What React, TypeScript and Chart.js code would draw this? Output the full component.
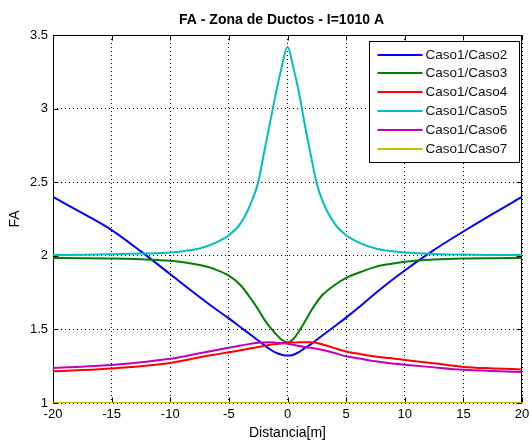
import React, { useEffect, useRef } from "react";
import { Chart, registerables } from "chart.js";

Chart.register(...registerables);

const titleText = "FA - Zona de Ductos - I=1010 A";
const xLabel = "Distancia[m]";
const yLabel = "FA";

const xTicks = [-20, -15, -10, -5, 0, 5, 10, 15, 20];
const yTicks = [1, 1.5, 2, 2.5, 3, 3.5];

const seriesNames = ["Caso1/Caso2", "Caso1/Caso3", "Caso1/Caso4", "Caso1/Caso5", "Caso1/Caso6", "Caso1/Caso7"];
const seriesColors = ["#0000ff", "#008000", "#ff0000", "#00bfbf", "#bf00bf", "#bfbf00"];

const distancia = [-20, -17.5, -15, -12.5, -10, -8.75, -7.5, -6.25, -5, -4, -3, -2.5, -2, -1.5, -1, -0.5, 0, 0.5, 1, 1.5, 2, 2.5, 3, 4, 5, 6.25, 7.5, 8.75, 10, 12.5, 15, 17.5, 20];

const caso2 = [2.40, 2.29, 2.175, 2.03, 1.875, 1.797, 1.72, 1.645, 1.575, 1.515, 1.455, 1.425, 1.395, 1.365, 1.342, 1.328, 1.322, 1.328, 1.348, 1.375, 1.40, 1.43, 1.46, 1.52, 1.58, 1.66, 1.745, 1.825, 1.90, 2.04, 2.165, 2.285, 2.40];
const caso3 = [1.985, 1.984, 1.982, 1.976, 1.966, 1.955, 1.937, 1.91, 1.865, 1.80, 1.695, 1.635, 1.57, 1.515, 1.47, 1.43, 1.412, 1.435, 1.49, 1.555, 1.625, 1.685, 1.735, 1.80, 1.85, 1.89, 1.925, 1.945, 1.96, 1.975, 1.982, 1.984, 1.985];
const caso4 = [1.215, 1.224, 1.235, 1.25, 1.272, 1.29, 1.311, 1.328, 1.345, 1.358, 1.373, 1.38, 1.388, 1.395, 1.40, 1.405, 1.409, 1.411, 1.413, 1.413, 1.412, 1.408, 1.398, 1.373, 1.35, 1.332, 1.316, 1.305, 1.292, 1.27, 1.245, 1.235, 1.228];
const caso5 = [2.005, 2.007, 2.01, 2.015, 2.022, 2.033, 2.05, 2.085, 2.14, 2.22, 2.38, 2.5, 2.7, 2.9, 3.1, 3.28, 3.42, 3.28, 3.1, 2.88, 2.68, 2.49, 2.37, 2.22, 2.14, 2.085, 2.05, 2.033, 2.023, 2.013, 2.008, 2.006, 2.005];
const caso6 = [1.238, 1.247, 1.258, 1.277, 1.30, 1.318, 1.338, 1.357, 1.375, 1.39, 1.404, 1.409, 1.411, 1.412, 1.41, 1.407, 1.402, 1.395, 1.387, 1.38, 1.375, 1.368, 1.36, 1.34, 1.317, 1.30, 1.283, 1.27, 1.26, 1.242, 1.226, 1.217, 1.21];
const caso7 = [1, 1, 1, 1, 1, 1, 1, 1, 1, 1, 1, 1, 1, 1, 1, 1, 1, 1, 1, 1, 1, 1, 1, 1, 1, 1, 1, 1, 1, 1, 1, 1, 1];

const allSeries = [caso2, caso3, caso4, caso5, caso6, caso7];

const FONT = "'Liberation Sans', Arial, Helvetica, sans-serif";

const framePlugin = {
  id: "frame",
  beforeDatasetsDraw(chart: any) {
    const { ctx, chartArea } = chart;
    const xs = chart.scales.x;
    const ys = chart.scales.y;
    const L = Math.round(chartArea.left) + 0.5;
    const R = Math.round(chartArea.right) - 0.5;
    const T = Math.round(chartArea.top) + 0.5;
    const B = Math.round(chartArea.bottom) - 0.5;
    const tl = 5;
    ctx.save();
    ctx.strokeStyle = "#000";
    ctx.lineWidth = 1;
    ctx.setLineDash([]);
    ctx.beginPath();
    ctx.rect(L, T, R - L, B - T);
    xTicks.forEach((v) => {
      const px = Math.round(xs.getPixelForValue(v)) + 0.5;
      ctx.moveTo(px, B);
      ctx.lineTo(px, B - tl);
      ctx.moveTo(px, T);
      ctx.lineTo(px, T + tl);
    });
    yTicks.forEach((v) => {
      const py = Math.round(ys.getPixelForValue(v)) + 0.5;
      ctx.moveTo(L, py);
      ctx.lineTo(L + tl, py);
      ctx.moveTo(R, py);
      ctx.lineTo(R - tl, py);
    });
    ctx.stroke();
    ctx.restore();
  },
};

const overlayPlugin = {
  id: "overlay",
  afterDraw(chart: any) {
    const { ctx, chartArea } = chart;
    ctx.save();
    ctx.fillStyle = "#000";
    ctx.font = `bold 14px ${FONT}`;
    ctx.textAlign = "center";
    ctx.textBaseline = "middle";
    ctx.fillText(titleText, (chartArea.left + chartArea.right) / 2 - 6, 20);

    const w = 150;
    const h = 121;
    const x0 = Math.round(chartArea.right - 153) + 0.5;
    const y0 = Math.round(chartArea.top + 6) + 0.5;
    const rowH = 18.9;
    ctx.fillStyle = "#fff";
    ctx.fillRect(x0, y0, w, h);
    ctx.strokeStyle = "#000";
    ctx.lineWidth = 1;
    ctx.strokeRect(x0, y0, w, h);
    ctx.font = `13.5px ${FONT}`;
    ctx.textAlign = "left";
    ctx.textBaseline = "middle";
    chart.data.datasets.forEach((ds: any, i: number) => {
      const cy = Math.round(y0 + 13 + i * rowH);
      ctx.strokeStyle = ds.borderColor;
      ctx.lineWidth = 2;
      ctx.beginPath();
      ctx.moveTo(x0 + 8, cy);
      ctx.lineTo(x0 + 53, cy);
      ctx.stroke();
      ctx.fillStyle = "#111";
      ctx.fillText(ds.label, x0 + 56, cy + 0.5);
    });
    ctx.restore();
  },
};

export default function App() {
  const ref = useRef<HTMLCanvasElement | null>(null);

  useEffect(() => {
    if (!ref.current) return;
    const datasets = allSeries.map((s, i) => ({
      label: seriesNames[i],
      data: distancia.map((x, j) => ({ x, y: s[j] })),
      borderColor: seriesColors[i],
      backgroundColor: seriesColors[i],
      borderWidth: 2,
      pointRadius: 0,
      fill: false,
      cubicInterpolationMode: "monotone" as const,
      order: allSeries.length - i,
    }));
    const chart = new Chart(ref.current, {
      type: "line",
      data: { datasets },
      options: {
        animation: false,
        responsive: false,
        devicePixelRatio: 1,
        layout: { padding: { left: 0, right: 8, top: 35, bottom: 0 } },
        plugins: {
          legend: { display: false },
          title: { display: false },
          tooltip: { enabled: false },
        },
        scales: {
          x: {
            type: "linear",
            min: -20,
            max: 20,
            afterBuildTicks: (s: any) => {
              s.ticks = xTicks.map((v) => ({ value: v }));
            },
            afterFit: (s: any) => {
              s.height = 40;
              s.paddingLeft = 0;
              s.paddingRight = 0;
            },
            ticks: {
              color: "#000",
              font: { size: 13, family: FONT },
              padding: 4,
              maxRotation: 0,
              autoSkip: false,
              callback: (v: any) => String(v),
            },
            grid: { color: "#000", lineWidth: 1, drawTicks: false },
            border: { display: false, dash: [1, 3] },
            title: {
              display: true,
              text: xLabel,
              color: "#000",
              font: { size: 14, family: FONT },
              padding: { top: 0, bottom: 1 },
            },
          },
          y: {
            type: "linear",
            min: 1,
            max: 3.5,
            afterBuildTicks: (s: any) => {
              s.ticks = yTicks.map((v) => ({ value: v }));
            },
            afterFit: (s: any) => {
              s.width = 53;
              s.paddingTop = 0;
              s.paddingBottom = 0;
            },
            ticks: {
              color: "#000",
              font: { size: 13, family: FONT },
              padding: 5,
              autoSkip: false,
              callback: (v: any) => String(v),
            },
            grid: { color: "#000", lineWidth: 1, drawTicks: false },
            border: { display: false, dash: [1, 3] },
            title: {
              display: true,
              text: yLabel,
              color: "#000",
              font: { size: 14, family: FONT },
              padding: { top: 7, bottom: 0 },
            },
          },
        },
      },
      plugins: [framePlugin, overlayPlugin],
    });
    return () => chart.destroy();
  }, []);

  return (
    <div style={{ position: "fixed", left: 0, top: 0, width: 530, height: 443, background: "#fff" }}>
      <canvas ref={ref} width={530} height={443} />
    </div>
  );
}
